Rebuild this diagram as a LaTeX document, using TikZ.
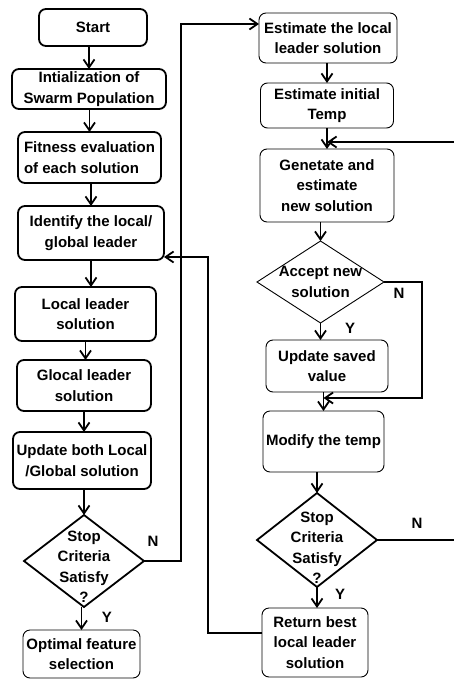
\documentclass[tikz,border=0pt]{standalone}
\usepackage{fontspec}
\setmainfont{Liberation Sans}
\usepackage{tikz}
\usetikzlibrary{shapes, arrows.meta, positioning, calc}
\tikzset{
  fcnode/.style={draw, rounded corners=7pt, align=center, inner sep=2pt, outer sep=0pt, font=\fontsize{15}{20.5}\selectfont\bfseries},
  boldnode/.style={fcnode, line width=1.8pt},
  thinnode/.style={fcnode, line width=0.9pt},
  decnode/.style={diamond, draw, inner sep=0pt, outer sep=0pt},
  dtext/.style={align=center, font=\fontsize{15}{20.5}\selectfont\bfseries},
  ynlabel/.style={font=\fontsize{15}{18}\selectfont\bfseries},
  farrow/.style={-{Straight Barb[length=8pt,width=11pt]}, line width=1.8pt},
  fline/.style={line width=1.8pt},
}

\begin{document}
\begin{tikzpicture}[x=1pt, y=-1pt]
  \useasboundingbox (0,0) rectangle (454,679);
  % left column
  \node[boldnode, minimum width=108pt, minimum height=37pt] (start) at (93,27.5) {Start};
  \node[boldnode, minimum width=154pt, minimum height=40pt, below=23pt of start, xshift=-4pt] (init) {Intialization of\\Swarm Population};
  \node[boldnode, minimum width=143pt, minimum height=51pt, below=23pt of init, xshift=0.5pt, align=left] (fit) {Fitness evaluation\\of each solution};
  \node[boldnode, minimum width=146pt, minimum height=54pt, below=23pt of fit, xshift=1.5pt] (ident) {Identify the local/\\global leader};
  \node[boldnode, minimum width=141pt, minimum height=54pt, below=27pt of ident, xshift=-5.5pt] (local) {Local leader\\solution};
  \node[boldnode, minimum width=134pt, minimum height=51pt, below=19pt of local, xshift=-1.5pt] (glocal) {Glocal leader\\solution};
  \node[boldnode, minimum width=138pt, minimum height=57pt, below=21pt of glocal, xshift=-2pt] (both) {Update both Local\\/Global solution};
  \node[decnode, line width=1.8pt, minimum width=120pt, minimum height=92pt, below=26pt of both, xshift=2pt,
        label={[dtext, yshift=-6pt]center:Stop\\Criteria\\Satisfy\\?}] (stop1) {};
  \node[thinnode, minimum width=117pt, minimum height=48pt, below=23pt of stop1, xshift=-2.5pt] (opt) {Optimal feature\\selection};

  % right column
  \node[thinnode, minimum width=138pt, minimum height=50pt] (est) at (328,38) {Estimate the local\\leader solution};
  \node[thinnode, minimum width=133pt, minimum height=45pt, below=20pt of est, xshift=-1pt] (temp) {Estimate initial\\Temp};
  \node[thinnode, minimum width=134pt, minimum height=73pt, below=21pt of temp] (gen) {Genetate and\\estimate\\new solution};
  \node[decnode, line width=0.9pt, minimum width=127pt, minimum height=82pt, below=19pt of gen, xshift=-6.5pt,
        label={[dtext]center:Accept new\\solution}] (acc) {};
  \node[thinnode, minimum width=122pt, minimum height=52pt, below=17pt of acc, xshift=6.5pt] (save) {Update saved\\value};
  \node[thinnode, minimum width=121pt, minimum height=61pt, below=19pt of save, xshift=-3.5pt] (mod) {Modify the temp};
  \node[decnode, line width=1.8pt, minimum width=120pt, minimum height=94pt, below=21pt of mod, xshift=-6.5pt,
        label={[dtext, yshift=-8pt]center:Stop\\Criteria\\Satisfy\\?}] (stop2) {};
  \node[thinnode, minimum width=106pt, minimum height=69pt, below=21pt of stop2, xshift=-2pt] (ret) {Return best\\local leader\\solution};

  % yes / no marks
  \node[ynlabel] (n1) at ($(stop1.east)+(9,-20)$) {N};
  \node[ynlabel] (y1) at ($(stop1.south)+(23,10)$) {Y};
  \node[ynlabel] (n2) at ($(acc.east)+(15,11)$) {N};
  \node[ynlabel] (y2) at ($(acc.south)+(29.5,5)$) {Y};
  \node[ynlabel] (n3) at ($(stop2.east)+(40,-17)$) {N};
  \node[ynlabel] (y3) at ($(stop2.south)+(23,7)$) {Y};

  \coordinate (loopin) at (454,142);
  \coordinate (loopout) at (454,540);

  % left column flow
  \draw[farrow] (start.south -| init.north) -- (init.north);
  \draw[farrow] (init.south -| fit.north) -- (fit.north);
  \draw[farrow] (fit.south -| ident.north) -- (ident.north);
  \draw[farrow] (ident.south) -- (ident.south |- local.north);
  \draw[farrow] (local.south) -- (local.south |- glocal.north);
  \draw[farrow] (glocal.south) -- (glocal.south |- both.north);
  \draw[farrow] (both.south -| stop1.north) -- (stop1.north);
  \draw[farrow] (stop1.south -| opt.north) -- (opt.north);

  % right column flow
  \draw[farrow] (est.south -| temp.north) -- (temp.north);
  \draw[farrow] (temp.south -| gen.north) -- (gen.north);
  \draw[farrow] (gen.south -| acc.north) -- (acc.north);
  \draw[farrow] (acc.south) -- (acc.south |- save.north);
  \draw[farrow] (save.south -| mod.north) -- (mod.north);
  \draw[farrow] (mod.south -| stop2.north) -- (stop2.north);
  \draw[farrow] (stop2.south) -- (stop2.south |- ret.north);

  % loops
  \draw[farrow] (stop1.east) -- ++(37,0) |- ($(est.north west)+(0,11)$);
  \draw[farrow] ($(ret.west)+(0,-9.5)$) -- ++(-54,0) |- ($(ident.south east)+(0,-3)$);
  \draw[farrow] (acc.east) -- ++(38,0) |- ($(save.south -| mod.north)+(0,6)$);
  \draw[farrow] (loopin) -- (gen.north |- loopin);
  \draw[fline] (stop2.east) -- (stop2.east -| loopout);
\end{tikzpicture}
\end{document}
